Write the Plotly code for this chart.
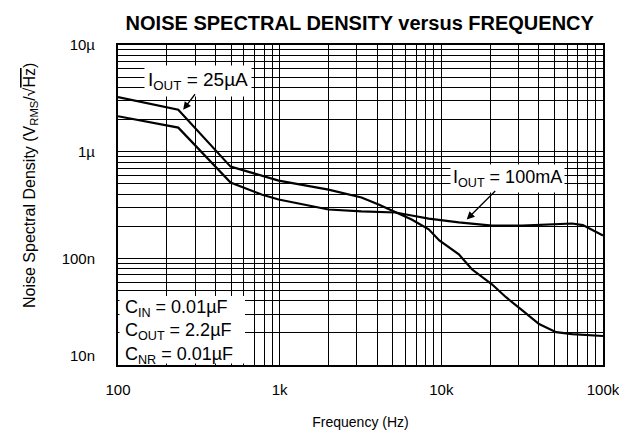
import plotly.graph_objects as go

# ---- data ----
freq_25uA = [100, 236, 497, 773, 986, 2005, 3206, 4093, 5214, 6554, 8356, 9720,
             12830, 15450, 20560, 25120, 31550, 40230, 51300, 64400, 100000]
noise_25uA = [3.25e-6, 2.47e-6, 7.24e-7, 5.97e-7, 5.36e-7, 4.41e-7, 3.72e-7, 3.20e-7,
              2.69e-7, 2.31e-7, 1.87e-7, 1.47e-7, 1.09e-7, 7.89e-8, 5.71e-8, 4.32e-8,
              3.27e-8, 2.42e-8, 2.03e-8, 1.95e-8, 1.87e-8]

freq_100mA = [100, 236, 497, 773, 986, 2005, 3206, 5214, 6554, 8356, 12830, 20560,
              31550, 51300, 64400, 75000, 100000]
noise_100mA = [2.15e-6, 1.68e-6, 5.13e-7, 3.96e-7, 3.56e-7, 2.87e-7, 2.75e-7, 2.69e-7,
               2.52e-7, 2.36e-7, 2.17e-7, 2.03e-7, 2.03e-7, 2.10e-7, 2.12e-7, 2.05e-7,
               1.64e-7]

x_tickvals = [100, 1000, 10000, 100000]
x_ticktext = ["100", "1k", "10k", "100k"]
y_tickvals = [1e-8, 1e-7, 1e-6, 1e-5]
y_ticktext = ["10n<br>\u00a0", "100n", "1µ", "10µ"]

FONT = "Liberation Sans, Arial, Helvetica, sans-serif"

x_minor = [k * 10 ** e for e in range(2, 5) for k in range(2, 10)]
y_minor = [k * 10.0 ** e for e in range(-8, -5) for k in range(2, 10)]

fig = go.Figure()
fig.add_trace(go.Scatter(x=freq_25uA, y=noise_25uA, mode="lines",
                         line=dict(color="black", width=2.2), showlegend=False))
fig.add_trace(go.Scatter(x=freq_100mA, y=noise_100mA, mode="lines",
                         line=dict(color="black", width=2.2), showlegend=False))

fig.update_layout(
    width=627, height=437,
    margin=dict(l=110, r=32, t=37, b=80),
    paper_bgcolor="white", plot_bgcolor="white",
    font=dict(family=FONT, size=15, color="black"),
    title=dict(text="<b>NOISE SPECTRAL DENSITY versus FREQUENCY</b>",
               x=0.561, xanchor="center", y=1 - 15 / 437, yanchor="middle",
               yref="container", font=dict(size=20, family=FONT)),
)

fig.update_xaxes(
    type="log", range=[2, 5],
    tickvals=x_tickvals, ticktext=x_ticktext, ticks="", ticklabelstandoff=10,
    showgrid=True, gridcolor="black", gridwidth=1,
    minor=dict(tickvals=x_minor, showgrid=True, gridcolor="black", gridwidth=1, ticks=""),
    showline=True, linecolor="black", linewidth=2, mirror=True,
    title=dict(text="Frequency (Hz)", standoff=20, font=dict(size=14)),
    zeroline=False,
)
fig.update_yaxes(
    type="log", range=[-8, -5],
    tickvals=y_tickvals, ticktext=y_ticktext, ticks="", ticklabelstandoff=18,
    showgrid=True, gridcolor="black", gridwidth=1,
    minor=dict(tickvals=y_minor, showgrid=True, gridcolor="black", gridwidth=1, ticks=""),
    showline=True, linecolor="black", linewidth=2, mirror=True,
    zeroline=False,
)

# white panel behind the capacitor note, inset so the frame stays visible
fig.add_shape(type="rect", xref="paper", yref="paper",
              x0=1.5 / 485, x1=(237 - 110) / 485, y0=1.5 / 320, y1=(357 - 288) / 320,
              fillcolor="white", line=dict(width=0), layer="above")

# y-axis title
fig.add_annotation(xref="paper", yref="paper", x=(22 - 110) / 485, y=(357 - 178) / 320,
                   xanchor="center", yanchor="middle", textangle=-90, showarrow=False,
                   text="Noise Spectral Density (V<sub>RMS</sub>/√<span style='text-decoration:overline'>Hz</span>)",
                   font=dict(size=16))

# labels
fig.add_annotation(xref="x", yref="y", x=2.496, y=-5.336,
                   text="I<sub>OUT</sub> = 25µA", showarrow=False,
                   bgcolor="white", borderpad=3, font=dict(size=19))
fig.add_annotation(xref="x", yref="y", x=2.403, y=-5.607, ax=13, ay=-17,
                   text="", showarrow=True, arrowhead=2, arrowsize=1.2,
                   arrowwidth=1.3, arrowcolor="black")

fig.add_annotation(xref="x", yref="y", x=4.412, y=-6.252,
                   text="I<sub>OUT</sub> = 100mA", showarrow=False,
                   bgcolor="white", borderpad=2, font=dict(size=18))
fig.add_annotation(xref="x", yref="y", x=4.157, y=-6.636, ax=30, ay=-30,
                   text="", showarrow=True, arrowhead=2, arrowsize=1.2,
                   arrowwidth=1.3, arrowcolor="black")

fig.add_annotation(xref="paper", yref="paper", x=(116 - 110) / 485, y=(357 - 324) / 320,
                   xanchor="left", yanchor="middle", align="left",
                   text="C<sub>IN</sub> = 0.01µF<br>C<sub>OUT</sub> = 2.2µF<br>C<sub>NR</sub> = 0.01µF",
                   showarrow=False, borderpad=0, font=dict(size=18))

fig.write_html("out.html")
